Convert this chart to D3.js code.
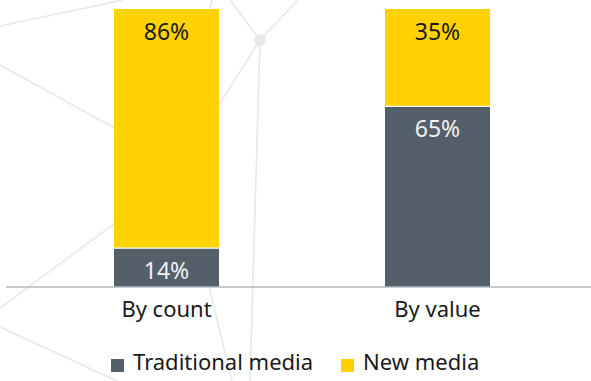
<!DOCTYPE html>
<html><head><meta charset="utf-8">
<script src="https://cdnjs.cloudflare.com/ajax/libs/d3/7.8.5/d3.min.js"></script>
<style>html,body{margin:0;padding:0;background:#fff;}svg{display:block;font-family:"Noto Sans",sans-serif;}</style>
</head><body><svg id="c" width="591" height="381"></svg>
<script>
const categories = ["By count", "By value"];
const seriesNames = ["Traditional media", "New media"];
const traditional = [14, 65];
const newMedia = [86, 35];
const colors = ["#545F6A", "#FFD200"];
const labelColors = ["#F2F2F2", "#1A1A1A"];

// decorative background network lines
const bgLines = [[0,26,123,0],[0,65,200,175],[260,40,230,0],[260,40,298,0],[260,40,250,381],[260,40,200,135],[212,0,205,30],[0,308,160,190],[0,327,117,381],[205,270,232,381]];

const svg = d3.select("#c");
const W = 591, H = 381;
const margin = {top: 9, bottom: 94, left: 6, right: 0};

const g0 = svg.append("g");
g0.selectAll("line").data(bgLines).join("line")
  .attr("x1", d => d[0]).attr("y1", d => d[1]).attr("x2", d => d[2]).attr("y2", d => d[3])
  .attr("stroke", "#E8E8EA").attr("stroke-width", 1.6);
g0.append("circle").attr("cx", 260).attr("cy", 40).attr("r", 6).attr("fill", "#E8E8EA");

const data = categories.map((c, i) => ({cat: c, t: traditional[i], n: newMedia[i]}));
const stack = d3.stack().keys(["t", "n"]);
const series = stack(data);

const x = d3.scaleBand().domain(categories).range([114, 490]).paddingInner(0.6125).paddingOuter(0);
const bw = x.bandwidth();
const y = d3.scaleLinear().domain([0, 100]).range([H - margin.bottom, margin.top]);

const g = svg.append("g");
series.forEach((s, si) => {
  const grp = g.append("g");
  grp.selectAll("rect").data(s).join("rect")
    .attr("x", d => x(d.data.cat))
    .attr("width", bw)
    .attr("y", d => y(d[1]))
    .attr("height", d => y(d[0]) - y(d[1]))
    .attr("fill", colors[si]);
  grp.selectAll("text").data(s).join("text")
    .attr("x", d => x(d.data.cat) + bw/2)
    .attr("y", d => y(d[1]) + 31)
    .attr("text-anchor", "middle")
    .attr("font-size", 23)
    .attr("fill", labelColors[si])
    .text(d => (d[1] - d[0]) + "%");
});
g.selectAll("line.sep").data(data).join("line")
  .attr("x1", d => x(d.cat)).attr("x2", d => x(d.cat) + bw)
  .attr("y1", d => y(d.t)).attr("y2", d => y(d.t))
  .attr("stroke", "#fff").attr("stroke-width", 1.2);

const axis = svg.append("g").attr("transform", `translate(0,${y(0)})`)
  .call(d3.axisBottom(x).tickSize(0).tickPadding(14));
axis.select(".domain").attr("d", `M${margin.left},0H${W}`).attr("stroke", "#B4B9BF").attr("stroke-width", 1.5);
axis.selectAll("text").attr("font-size", 22).attr("fill", "#1A1A1A").attr("font-family", "Noto Sans, sans-serif");

const legX = [111, 341];
const leg = svg.append("g");
seriesNames.forEach((n, i) => {
  leg.append("rect").attr("x", legX[i]).attr("y", 359).attr("width", 13).attr("height", 13).attr("fill", colors[i]);
  leg.append("text").attr("x", legX[i] + 22).attr("y", 370).attr("font-size", 22).attr("fill", "#1A1A1A").text(n);
});
</script></body></html>
